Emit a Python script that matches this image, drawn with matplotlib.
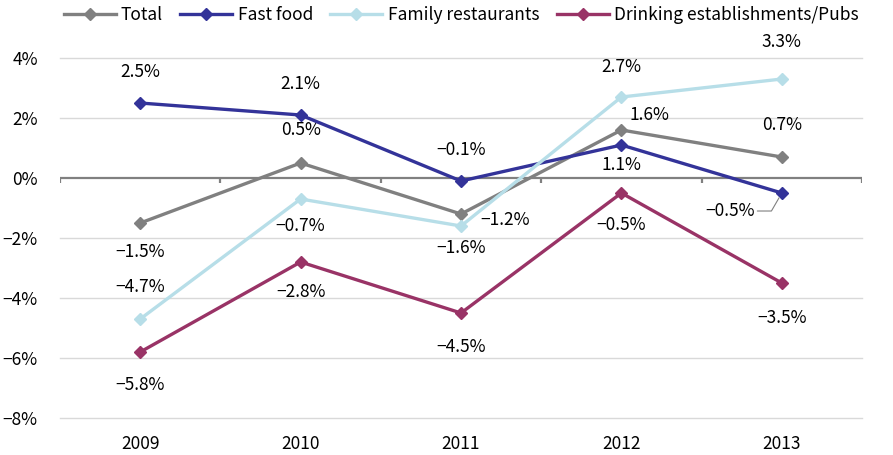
import matplotlib
matplotlib.use("Agg")
import matplotlib.pyplot as plt
import numpy as np

plt.rcParams['font.family'] = ['Noto Sans CJK JP', 'DejaVu Sans']

# === Data ===
years = ["2009", "2010", "2011", "2012", "2013"]
total = [-1.5, 0.5, -1.2, 1.6, 0.7]
fast_food = [2.5, 2.1, -0.1, 1.1, -0.5]
family = [-4.7, -0.7, -1.6, 2.7, 3.3]
drinking = [-5.8, -2.8, -4.5, -0.5, -3.5]

series = [
    ("Total", total, "#808080"),
    ("Fast food", fast_food, "#333399"),
    ("Family restaurants", family, "#b7dee8"),
    ("Drinking establishments/Pubs", drinking, "#993366"),
]

# label offsets in pixels (dx, dy) for each series/point
offsets = {
    "Total": [(0, -29), (0, 33), (44, -6), (28, 15), (0, 32)],
    "Fast food": [(0, 31), (0, 31), (0, 31), (0, -20), (-52, -18)],
    "Family restaurants": [(0, 32), (0, -27), (0, -22), (0, 30), (0, 37)],
    "Drinking establishments/Pubs": [(0, -33), (0, -30), (0, -34), (0, -32), (0, -35)],
}

fs = 12.5

fig = plt.figure(figsize=(8.93, 4.55), dpi=100)
ax = fig.add_axes([0.0672, 0.0813, 0.8981, 0.7912])

x = np.arange(len(years))

# gridlines
for v in [-8, -6, -4, -2, 2, 4]:
    ax.axhline(v, color="#d9d9d9", lw=1.0, zorder=0, clip_on=False)
# zero axis with tick marks between categories
ax.axhline(0, color="#808080", lw=1.6, zorder=1)
ax.vlines(np.arange(len(years) + 1) - 0.5, -0.17, 0, color="#808080", lw=1.6, zorder=1)

for name, vals, col in series:
    ax.plot(x, vals, color=col, lw=2.4, marker="D", markersize=6.5,
            label=name, zorder=3, clip_on=False)
    for i, v in enumerate(vals):
        dx, dy = offsets[name][i]
        txt = f"{v:.1f}%".replace("-", "\u2212")
        if name == "Fast food" and i == 4:
            ax.annotate(txt, xy=(i, v), xytext=(dx, dy), textcoords="offset pixels",
                        ha="center", va="center", fontsize=fs,
                        arrowprops=dict(arrowstyle="-", color="#808080", lw=0.8,
                                        shrinkA=27, shrinkB=4,
                                        connectionstyle="angle,angleA=0,angleB=60,rad=0"))
        else:
            ax.annotate(txt, xy=(i, v), xytext=(dx, dy), textcoords="offset pixels",
                        ha="center", va="center", fontsize=fs)

ax.set_xlim(-0.5, len(years) - 0.5)
ax.set_ylim(-8, 4)
ax.set_xticks(x)
ax.set_xticklabels(years, fontsize=fs)
ax.set_yticks([-8, -6, -4, -2, 0, 2, 4])
ax.set_yticklabels([f"{v}%".replace("-", "\u2212") for v in [-8, -6, -4, -2, 0, 2, 4]], fontsize=fs)
ax.tick_params(axis="x", length=0, pad=12)
ax.tick_params(axis="y", length=0, pad=16)
for s in ax.spines.values():
    s.set_visible(False)

ax.legend(loc="center", bbox_to_anchor=(0.5, 1.12), ncol=4, frameon=False,
          fontsize=fs, handlelength=3.0, handletextpad=0.3, columnspacing=1.0,
          borderaxespad=0)

fig.savefig("out.png", dpi=100)
